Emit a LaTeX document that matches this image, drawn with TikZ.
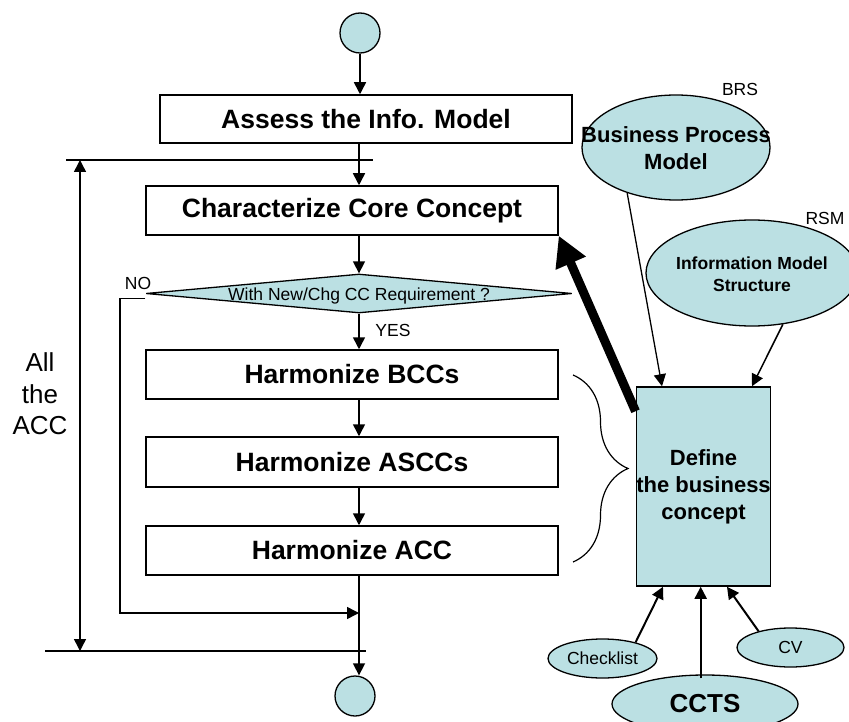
\documentclass[tikz,border=0pt]{standalone}
\usepackage{fontspec}
\setmainfont{Liberation Sans}
\usetikzlibrary{positioning, arrows.meta, shapes.geometric, decorations.pathreplacing, calc}
\definecolor{BubbleFill}{RGB}{187,224,227}
\newcommand{\setfs}[2]{\fontsize{#1}{#2}\selectfont}
\tikzset{
  flowline/.style={line width=1.5pt},
  arrowtip/.style={-{Triangle[length=12pt,width=12pt]}},
  procbox/.style={draw, line width=1.5pt, minimum width=412pt, minimum height=49pt, inner sep=0pt, font=\setfs{26.5}{30}\bfseries},
  termnode/.style={circle, draw, fill=BubbleFill, line width=1.3pt, minimum size=40pt, inner sep=0pt},
  bubble/.style={ellipse, draw, fill=BubbleFill, line width=1.3pt, inner sep=0pt},
  tag/.style={font=\setfs{17.5}{21}},
}
\begin{document}
\begin{tikzpicture}[x=1pt, y=-1pt]
  \useasboundingbox (0,0) rectangle (849,722);
  % main flow
  \node[termnode] (start) at (360,33) {};
  \node[procbox, minimum height=48pt] (assess) at (366,119) {Assess the Info. Model};
  \node[procbox] (charcc) at (352,210.5) {Characterize Core Concept};
  \node[diamond, draw, fill=BubbleFill, line width=1.3pt, inner sep=0pt,
        minimum width=426pt, minimum height=39pt,
        label={[font=\setfs{17.5}{21}, yshift=-2pt]center:With New/Chg CC Requirement ?}] (req) at (359,293.5) {};
  \node[procbox] (bcc) at (352,374.5) {Harmonize BCCs};
  \node[procbox, minimum height=50pt] (ascc) at (352,462) {Harmonize ASCCs};
  \node[procbox] (acc) at (352,550.5) {Harmonize ACC};
  \node[termnode] (finish) at (355,696) {};
  \node[tag] (nolabel) at (138,283) {NO};
  \node[tag] (yeslabel) at (393,330) {YES};

  \draw[flowline, arrowtip] (start) -- (start |- assess.north);
  \foreach \a/\b in {assess/charcc, charcc/req, req/bcc, bcc/ascc, ascc/acc, acc/finish}
    \draw[flowline, arrowtip] (req.center |- \a.south) -- (req.center |- \b.north);

  % NO loop
  \coordinate (noturn) at (120,613);
  \draw[flowline, arrowtip] ([yshift=-5pt]req.west) -| (noturn) -- (noturn -| req.center);

  % span of all the ACC
  \coordinate (topleft) at (66,160);
  \coordinate (topright) at (373,160);
  \coordinate (botleft) at (45,651);
  \coordinate (botright) at (366,651);
  \coordinate (spantop) at (80,160);
  \coordinate (spanbot) at (80,651);
  \draw[flowline] (topleft) -- (topright);
  \draw[flowline] (botleft) -- (botright);
  \draw[flowline, {Triangle[length=12pt,width=12pt]}-{Triangle[length=12pt,width=12pt]}] (spantop) -- (spanbot);
  \node[font=\setfs{26}{31.5}, align=center] (acclabel) at (40,394) {All\\the\\ACC};

  % brace
  \draw[line width=1.2pt, decorate, decoration={brace, amplitude=55pt}] (573,375) -- (573,562);

  % business concept side
  \node[draw, fill=BubbleFill, line width=1.5pt, minimum width=133pt, minimum height=199pt,
        inner sep=0pt, align=center, font=\setfs{22}{27}\bfseries] (define) at (703.5,486.5) {Define\\the business\\concept};
  \node[bubble, minimum width=188pt, minimum height=105pt,
        label={[font=\setfs{22}{27}\bfseries, align=center, yshift=-1pt]center:Business Process\\Model}] (bpm) at (676,147.5) {};
  \node[bubble, minimum width=212pt, minimum height=106pt,
        label={[font=\setfs{17.5}{22}\bfseries, align=center, yshift=-1pt]center:Information Model\\Structure}] (ims) at (752,273) {};
  \node[tag] (brs) at (740,89) {BRS};
  \node[tag] (rsm) at (825,218) {RSM};
  \node[bubble, minimum width=109pt, minimum height=39pt, font=\setfs{17.5}{21}] (checklist) at (602.5,658.5) {Checklist};
  \node[bubble, minimum width=107pt, minimum height=39pt, font=\setfs{17.5}{21}] (cv) at (790.5,647.5) {CV};
  \node[bubble, minimum width=186pt, minimum height=58pt, font=\setfs{26}{30}\bfseries] (ccts) at (705,704) {CCTS};

  \draw[line width=1.3pt, arrowtip] (bpm.223) -- ([xshift=-41.5pt]define.north);
  \draw[line width=1.5pt, arrowtip] (ims.301) -- ([xshift=48.5pt]define.north);
  \draw[line width=2pt, arrowtip] (checklist.26) -- ([xshift=-40.5pt]define.south);
  \draw[line width=2pt, arrowtip] ([yshift=-4pt]ccts.north -| 700.7,0) -- (700.7,0 |- define.south);
  \draw[line width=2pt, arrowtip] (cv.153) -- ([xshift=23.5pt]define.south);
  \draw[line width=9pt, -{Triangle[length=30pt,width=31pt]}] ([yshift=-25pt]define.north west) -- (charcc.south east);
\end{tikzpicture}
\end{document}
